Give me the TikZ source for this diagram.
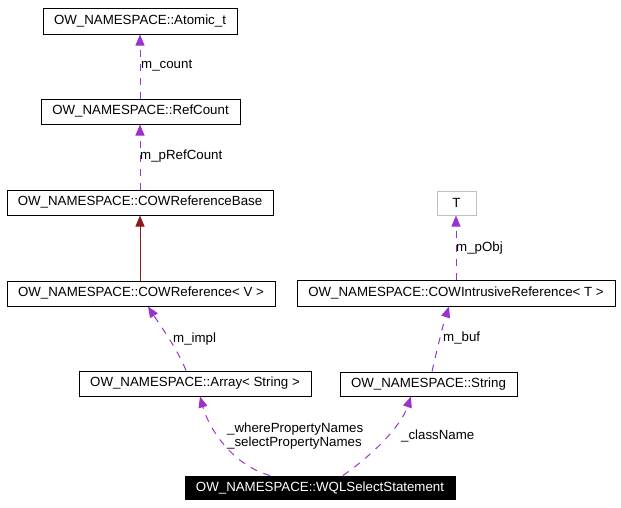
\documentclass[tikz,border=0pt]{standalone}
\usepackage{fontspec}
\setmainfont{Liberation Sans}
\usetikzlibrary{arrows.meta}
\definecolor{usecol}{HTML}{9A32CD}
\definecolor{inhcol}{HTML}{8B1A1A}
\definecolor{boxgray}{HTML}{BFBFBF}
\tikzset{
  cls/.style={draw=black, line width=1pt, inner sep=0pt, minimum height=25pt, font=\fontsize{13.3}{15}\selectfont},
  grayc/.style={cls, draw=boxgray},
  mainc/.style={cls, fill=black, text=white},
  usage/.style={draw=usecol, line width=1pt, dash pattern=on 7pt off 7pt, -{Triangle[length=11pt,width=9pt,fill=usecol]}},
  inher/.style={draw=inhcol, line width=1pt, -{Triangle[length=11pt,width=9pt,fill=inhcol]}},
  lbl/.style={anchor=west, inner sep=0pt, font=\fontsize{13.3}{15}\selectfont},
}
\begin{document}
\begin{tikzpicture}[x=1pt,y=-1pt]
\useasboundingbox (0,0) rectangle (621,507);
\node[cls, minimum width=194pt, minimum height=26pt] (atomic) at (140,21) {OW\_NAMESPACE::Atomic\_t};
\node[cls, minimum width=199pt] (refcount) at (140.5,111.5) {OW\_NAMESPACE::RefCount};
\node[cls, minimum width=266pt] (cowbase) at (140,202.5) {OW\_NAMESPACE::COWReferenceBase};
\node[cls, minimum width=268pt] (cowref) at (141,293.5) {OW\_NAMESPACE::COWReference< V >};
\node[cls, minimum width=232pt] (array) at (195,383.5) {OW\_NAMESPACE::Array< String >};
\node[mainc, minimum width=270pt, minimum height=23pt] (wql) at (320,487.5) {OW\_NAMESPACE::WQLSelectStatement};
\node[grayc, minimum width=39pt, minimum height=24pt] (T) at (456.5,203) {T};
\node[cls, minimum width=318pt, minimum height=26pt] (intr) at (456,293) {OW\_NAMESPACE::COWIntrusiveReference< T >};
\node[cls, minimum width=177pt, minimum height=24pt] (string) at (428.5,384) {OW\_NAMESPACE::String};

\draw[usage] ([xshift=-0.5pt]refcount.north) -- (atomic.south);
\draw[usage] (cowbase.north) -- ([xshift=-0.5pt]refcount.south);
\draw[inher] ([xshift=-1pt]cowref.north) -- (cowbase.south);
\draw[usage] (intr.north) -- ([xshift=-0.5pt]T.south);
\draw[usage] ([xshift=-9pt]array.north) .. controls (178,350) and (160,325) .. ([xshift=7pt]cowref.south);
\draw[usage] ([xshift=3.5pt]string.north) .. controls (437,350) and (442,328) .. ([xshift=-7pt]intr.south);
\draw[usage] ([xshift=-50pt]wql.north) .. controls (235,466) and (210,432) .. ([xshift=5pt]array.south);
\draw[usage] ([xshift=23pt]wql.north) .. controls (372,455) and (400,428) .. ([xshift=-17.5pt]string.south);

\node[lbl] (l1) at (141,66) {m\_count};
\node[lbl] (l2) at (140,156) {m\_pRefCount};
\node[lbl] (l3) at (173,339) {m\_impl};
\node[lbl] (l4) at (456,248) {m\_pObj};
\node[lbl] (l5) at (443,338) {m\_buf};
\node[lbl] (l6) at (227,429) {\_wherePropertyNames};
\node[lbl] (l7) at (227,443) {\_selectPropertyNames};
\node[lbl] (l8) at (401,436) {\_className};
\end{tikzpicture}
\end{document}
